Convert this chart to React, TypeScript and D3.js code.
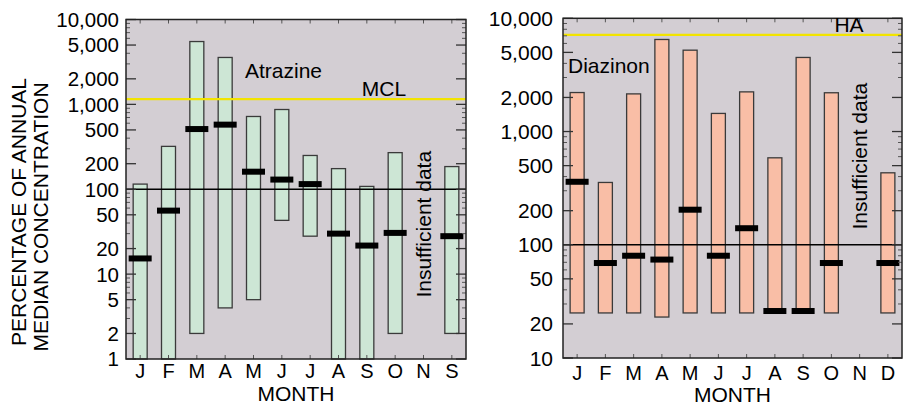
import React from "react";
import * as d3 from "d3";

const monthsLeft = ["J", "F", "M", "A", "M", "J", "J", "A", "S", "O", "N", "S"];
const monthsRight = ["J", "F", "M", "A", "M", "J", "J", "A", "S", "O", "N", "D"];

// Atrazine (left panel), percentage of annual median concentration
const atrazineMax: (number | null)[] = [115, 320, 5500, 3570, 720, 870, 250, 175, 108, 270, null, 185];
const atrazineMin: (number | null)[] = [1, 1, 2, 4, 5, 43, 28, 1, 1, 2, null, 2];
const atrazineMedian: (number | null)[] = [15.3, 56, 512, 577, 161, 130, 115, 30, 21.7, 30.6, null, 28];
const atrazineMCL = 1150;

// Diazinon (right panel)
const diazinonMax: (number | null)[] = [2210, 355, 2150, 6500, 5230, 1445, 2240, 586, 4510, 2200, null, 432];
const diazinonMin: (number | null)[] = [25, 25, 25, 23, 25, 25, 25, 26, 26, 25, null, 25];
const diazinonMedian: (number | null)[] = [360, 69, 80, 74, 204, 80, 140, 26, 26, 69, null, 69];
const diazinonHA = 7140;

const leftTicks = [1, 2, 5, 10, 20, 50, 100, 200, 500, 1000, 2000, 5000, 10000];
const rightTicks = [10, 20, 50, 100, 200, 500, 1000, 2000, 5000, 10000];

const FONT = "'Liberation Sans', Arial, Helvetica, sans-serif";
const BG = "#d3ced3";

type PanelProps = {
  x0: number;
  x1: number;
  yTop: number;
  yBottom: number;
  domain: [number, number];
  ticks: number[];
  months: string[];
  maxV: (number | null)[];
  minV: (number | null)[];
  medV: (number | null)[];
  fill: string;
  refValue: number;
  refLabel: string;
  refLabelX: number;
  name: string;
  nameX: number;
  nameY: number;
  tickFont: number;
  monthBaseline: number;
  titleBaseline: number;
  labelGap: number;
  insuffOffset: number;
};

function Panel(p: PanelProps) {
  const y = d3.scaleLog().domain(p.domain).range([p.yBottom, p.yTop]);
  const idx = d3.range(12).map(String);
  const x = d3.scaleBand<string>().domain(idx).range([p.x0, p.x1]);
  const bw = x.bandwidth();
  const barW = 14;
  const medW = 23;
  const medH = 6;
  const fmt = d3.format(",");

  const minor: number[] = [];
  const [lo, hi] = p.domain;
  for (let dec = lo; dec < hi; dec *= 10) {
    for (const m of [3, 4, 6, 7, 8, 9]) minor.push(dec * m);
  }
  const w = p.x1 - p.x0;
  const cx = (i: number) => (x(String(i)) as number) + bw / 2;

  return (
    <g fontFamily={FONT}>
      <rect x={p.x0} y={p.yTop} width={w} height={p.yBottom - p.yTop} fill={BG} />
      {idx.map((k, i) => {
        const mx = p.maxV[i];
        const mn = p.minV[i];
        if (mx == null || mn == null) return null;
        return (
          <rect
            key={"b" + k}
            x={cx(i) - barW / 2}
            y={y(mx)}
            width={barW}
            height={y(mn) - y(mx)}
            fill={p.fill}
            stroke="#3a3a3a"
            strokeWidth={1.3}
          />
        );
      })}
      <line x1={p.x0} x2={p.x1} y1={y(100)} y2={y(100)} stroke="#000" strokeWidth={1.5} />
      <line x1={p.x0} x2={p.x1} y1={y(p.refValue)} y2={y(p.refValue)} stroke="#f2e400" strokeWidth={2.2} />
      {idx.map((k, i) => {
        const md = p.medV[i];
        if (md == null) return null;
        return (
          <rect key={"m" + k} x={cx(i) - medW / 2} y={y(md) - medH / 2} width={medW} height={medH} fill="#000" />
        );
      })}
      {p.ticks.map((t) => (
        <g key={"t" + t}>
          <line x1={p.x0} x2={p.x0 + 10} y1={y(t)} y2={y(t)} stroke="#333" strokeWidth={1.3} />
          <line x1={p.x1} x2={p.x1 - 10} y1={y(t)} y2={y(t)} stroke="#333" strokeWidth={1.3} />
          <text x={p.x0 - p.labelGap} y={y(t)} dy="0.36em" textAnchor="end" fontSize={p.tickFont} fill="#000">
            {fmt(t)}
          </text>
        </g>
      ))}
      {minor.map((t, i) => (
        <g key={"n" + i}>
          <line x1={p.x0} x2={p.x0 + 4} y1={y(t)} y2={y(t)} stroke="#555" strokeWidth={1} />
          <line x1={p.x1} x2={p.x1 - 4} y1={y(t)} y2={y(t)} stroke="#555" strokeWidth={1} />
        </g>
      ))}
      {idx.map((k, i) => (
        <g key={"x" + k}>
          <line x1={cx(i)} x2={cx(i)} y1={p.yTop} y2={p.yTop + 4} stroke="#555" strokeWidth={1} />
          <line x1={cx(i)} x2={cx(i)} y1={p.yBottom} y2={p.yBottom - 4} stroke="#555" strokeWidth={1} />
          <text x={cx(i)} y={p.monthBaseline} textAnchor="middle" fontSize={20} fill="#000">
            {p.months[i]}
          </text>
        </g>
      ))}
      <rect x={p.x0} y={p.yTop} width={w} height={p.yBottom - p.yTop} fill="none" stroke="#222" strokeWidth={1.5} />
      <text x={p.refLabelX} y={y(p.refValue) - 3} textAnchor="middle" fontSize={21} fill="#000">
        {p.refLabel}
      </text>
      <text x={p.nameX} y={p.nameY} fontSize={21} fill="#000">
        {p.name}
      </text>
      <text
        transform={`translate(${cx(10) + 7},${(p.yTop + p.yBottom) / 2 + p.insuffOffset}) rotate(-90)`}
        textAnchor="middle"
        fontSize={21}
        fill="#000"
      >
        Insufficient data
      </text>
      <text x={(p.x0 + p.x1) / 2} y={p.titleBaseline} textAnchor="middle" fontSize={21} fill="#000">
        MONTH
      </text>
    </g>
  );
}

export default function App() {
  return (
    <svg
      width={907}
      height={407}
      style={{ position: "absolute", left: 0, top: 0, background: "#fff" }}
    >
      <rect x={0} y={0} width={907} height={407} fill="#fff" />
      <text transform="translate(26,212) rotate(-90)" textAnchor="middle" fontSize={21} fontFamily={FONT} fill="#000">
        PERCENTAGE OF ANNUAL
      </text>
      <text transform="translate(48,217) rotate(-90)" textAnchor="middle" fontSize={21} fontFamily={FONT} fill="#000">
        MEDIAN CONCENTRATION
      </text>
      <Panel
        x0={126}
        x1={466}
        yTop={19.5}
        yBottom={359}
        domain={[1, 10000]}
        ticks={leftTicks}
        months={monthsLeft}
        maxV={atrazineMax}
        minV={atrazineMin}
        medV={atrazineMedian}
        fill="#cde6d5"
        refValue={atrazineMCL}
        refLabel="MCL"
        refLabelX={384}
        name="Atrazine"
        nameX={245}
        nameY={78}
        tickFont={20.5}
        monthBaseline={378}
        titleBaseline={401}
        labelGap={7}
        insuffOffset={35}
      />
      <Panel
        x0={563}
        x1={902}
        yTop={18.3}
        yBottom={358}
        domain={[10, 10000]}
        ticks={rightTicks}
        months={monthsRight}
        maxV={diazinonMax}
        minV={diazinonMin}
        medV={diazinonMedian}
        fill="#f9bea6"
        refValue={diazinonHA}
        refLabel="HA"
        refLabelX={849}
        name="Diazinon"
        nameX={568}
        nameY={73}
        tickFont={21}
        monthBaseline={380}
        titleBaseline={402}
        labelGap={10}
        insuffOffset={-32}
      />
    </svg>
  );
}
